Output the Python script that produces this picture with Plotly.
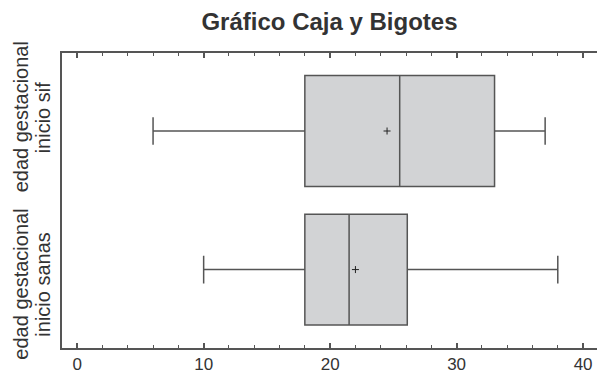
import plotly.graph_objects as go

# Groups (bottom to top) and their five-number summaries plus mean
groups = ["edad gestacional inicio sanas", "edad gestacional inicio sif"]
group_lines = [["edad gestacional", "inicio sanas"], ["edad gestacional", "inicio sif"]]
lower_whisker = [10, 6]
q1 = [18, 18]
median = [21.5, 25.5]
q3 = [26.1, 33]
upper_whisker = [38, 37]
mean = [22, 24.5]

x_ticks = [0, 10, 20, 30, 40]

W, H = 597, 374
ML, MR, MT, MB = 62, 0, 53, 23
plot_w, plot_h = W - ML - MR, H - MT - MB

fig = go.Figure()

fig.add_trace(go.Box(
    y=groups,
    q1=q1,
    median=median,
    q3=q3,
    lowerfence=lower_whisker,
    upperfence=upper_whisker,
    orientation="h",
    width=0.8,
    whiskerwidth=0.25,
    fillcolor="#d2d3d5",
    line=dict(color="#555555", width=1.5),
    boxpoints=False,
    hoverinfo="skip",
    showlegend=False,
))

fig.add_trace(go.Scatter(
    x=mean,
    y=groups,
    mode="markers",
    marker=dict(symbol="cross-thin", size=5, line=dict(color="#222222", width=1)),
    hoverinfo="skip",
    showlegend=False,
))

# Rotated two-line group labels on the left, one annotation per line
label_centers_px = [287, 118]      # vertical centre of each group's label
line_x_px = [21, 43]               # horizontal centre of the first and second line
for lines, cy in zip(group_lines, label_centers_px):
    for text, cx in zip(lines, line_x_px):
        fig.add_annotation(
            text=text,
            xref="paper", yref="paper",
            x=(cx - ML) / plot_w,
            y=(H - MB - cy) / plot_h,
            xanchor="center", yanchor="middle",
            textangle=-90,
            showarrow=False,
            font=dict(size=20, color="#333333"),
        )

axis_color = "#555555"

fig.update_layout(
    width=W,
    height=H,
    margin=dict(l=ML, r=MR, t=MT, b=MB),
    paper_bgcolor="white",
    plot_bgcolor="white",
    font=dict(family="Liberation Sans, Arial, sans-serif", color="#333333"),
    title=dict(
        text="<b>Gráfico Caja y Bigotes</b>",
        x=0.5,
        xref="paper",
        xanchor="center",
        y=1 - 22 / H,
        yanchor="middle",
        font=dict(size=24, color="#333333"),
    ),
    xaxis=dict(
        range=[-1.2, 41.1],
        tickvals=x_ticks,
        ticks="inside",
        ticklen=5,
        tickwidth=1.5,
        tickcolor=axis_color,
        showline=True,
        linecolor=axis_color,
        linewidth=1.5,
        mirror="ticks",
        showgrid=False,
        zeroline=False,
        tickfont=dict(size=17, color="#333333"),
        minor=dict(dtick=2, ticks="inside", ticklen=3, tickwidth=1.2,
                   tickcolor=axis_color, showgrid=False),
    ),
    yaxis=dict(
        type="category",
        categoryorder="array",
        categoryarray=groups,
        range=[-0.566, 1.563],
        showline=True,
        linecolor=axis_color,
        linewidth=1.5,
        ticks="",
        showticklabels=False,
        showgrid=False,
        zeroline=False,
    ),
)

fig.write_html("out.html")
